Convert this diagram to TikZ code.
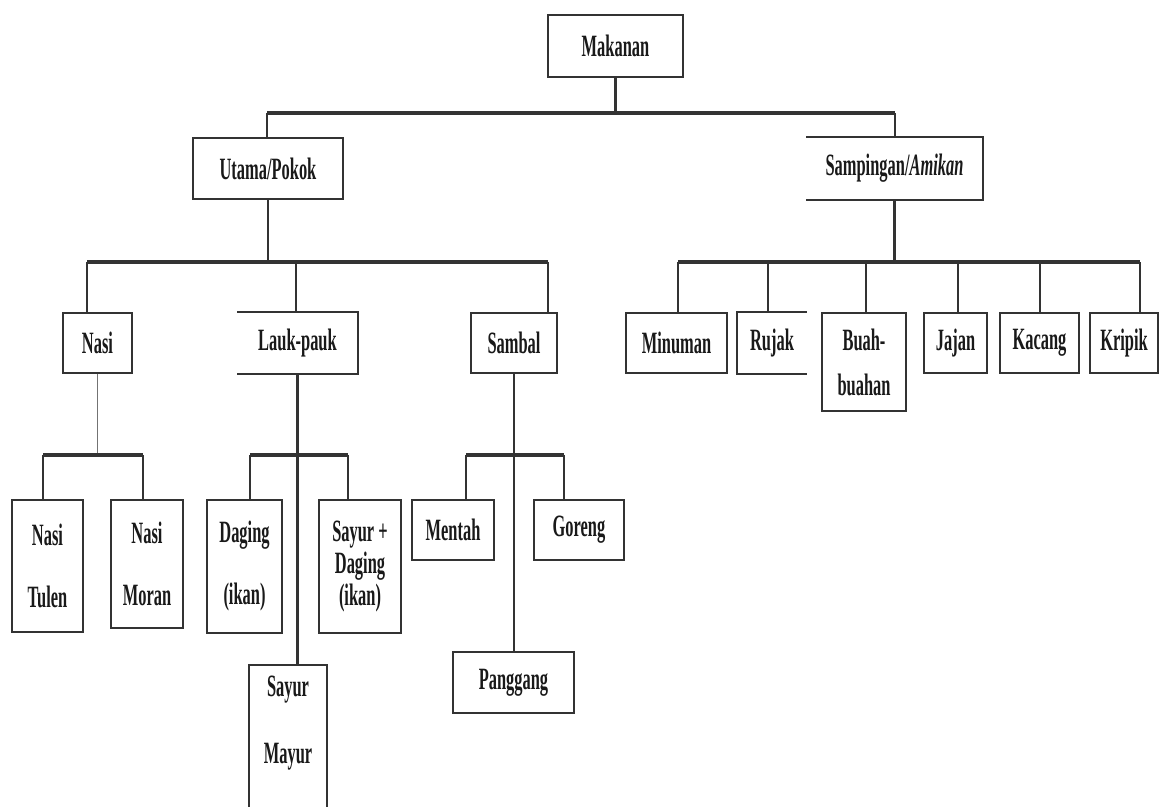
\documentclass[tikz,border=0pt]{standalone}
\usepackage{fontspec}
\setmainfont{Liberation Serif}
\usepackage{graphicx}
\newcommand{\sq}[1]{\scalebox{0.53}[1]{#1}}
\begin{document}
\begin{tikzpicture}[x=1pt,y=-1pt,
  box/.style={draw=black!80, line width=1.8pt, inner sep=0pt, font=\fontsize{31}{35}\selectfont\bfseries, text=black!90, align=center},
  openbox/.style={box, draw=none},
  edge/.style={line width=1.8pt, draw=black!80},
  bar/.style={line width=3.5pt, draw=black!80},
  stem/.style={line width=2.2pt, draw=black!80},
  thinstem/.style={line width=0.9pt, draw=black!55}]
\useasboundingbox (0,0) rectangle (1161,806);
\clip (0,0) rectangle (1161,806);
\fill[white] (0,0) rectangle (1161,806);

% level 0
\node[box, minimum width=135pt, minimum height=62pt] (mak) at (615.5,46) {\sq{Makanan}};
% level 1
\node[box, minimum width=150pt, minimum height=61pt] (ut) at (268,168.5) {\sq{Utama/Pokok}};
\node[openbox, minimum width=175pt, minimum height=61pt] (samp) at (894.5,168.5) {\sq{Sampingan/\textit{Amikan}}};
% level 2 left
\node[box, minimum width=69pt, minimum height=60pt] (nasi) at (97.5,343) {\sq{Nasi}};
\node[openbox, minimum width=119pt, minimum height=60pt] (lauk) at (297.5,343) {\sq{Lauk-pauk}};
\node[box, minimum width=86pt, minimum height=60pt] (sambal) at (514,343) {\sq{Sambal}};
% level 2 right
\node[box, minimum width=101pt, minimum height=60pt] (minum) at (676.5,343) {\sq{Minuman}};
\node[openbox, minimum width=68pt, minimum height=60pt] (rujak) at (772,343) {\sq{Rujak}};
\node[box, minimum width=84pt, minimum height=98pt] (buah) at (864,362) {\sq{Buah-}\\[10pt]\sq{buahan}};
\node[box, minimum width=63pt, minimum height=60pt] (jajan) at (955.5,343) {\sq{Jajan}};
\node[box, minimum width=79pt, minimum height=60pt] (kacang) at (1039.5,343) {\sq{Kacang}};
\node[box, minimum width=68pt, minimum height=60pt] (kripik) at (1124,343) {\sq{Kripik}};
% level 3
\node[box, minimum width=71pt, minimum height=132pt] (tulen) at (47.5,566) {\sq{Nasi}\\[27pt]\sq{Tulen}};
\node[box, minimum width=72pt, minimum height=128pt] (moran) at (147,564) {\sq{Nasi}\\[27pt]\sq{Moran}};
\node[box, minimum width=75pt, minimum height=133pt] (daging) at (244.5,566.5) {\sq{Daging}\\[27pt]\sq{(ikan)}};
\node[box, minimum width=82pt, minimum height=133pt] (sdaging) at (360,566.5) {\sq{Sayur +}\\[-3pt]\sq{Daging}\\[-3pt]\sq{(ikan)}};
\node[openbox, minimum width=76pt, minimum height=114pt] (mayur) at (288,723) {\sq{Sayur}\\[32pt]\sq{Mayur}};
\node[box, minimum width=82pt, minimum height=60pt] (mentah) at (453,530) {\sq{Mentah}};
\node[box, minimum width=90pt, minimum height=60pt] (goreng) at (579,530) {\sq{Goreng}};
\node[box, minimum width=121pt, minimum height=61pt] (panggang) at (513.5,682.5) {\sq{Panggang}};

% open box outlines
\draw[edge] (samp.north west) -- (samp.north east) -- (samp.south east) -- (samp.south west);
\draw[edge] (lauk.north west) -- (lauk.north east) -- (lauk.south east) -- (lauk.south west);
\draw[edge] (rujak.north east) -- (rujak.north west) -- (rujak.south west) -- (rujak.south east);
\draw[edge] (mayur.south west |- 0,820) -- (mayur.north west) -- (mayur.north east) -- (mayur.south east |- 0,820);

% junction coordinates
\coordinate (b0L) at (267,113);
\coordinate (b0R) at (895,113);
\coordinate (b1L) at (87,262);
\coordinate (b1M) at (296,262);
\coordinate (b1R) at (548,262);
\coordinate (b2L) at (678,262);
\coordinate (b2a) at (768,262);
\coordinate (b2b) at (866,262);
\coordinate (b2c) at (958,262);
\coordinate (b2d) at (1040,262);
\coordinate (b2R) at (1140,262);
\coordinate (n3L) at (43,455);
\coordinate (n3R) at (143,455);
\coordinate (l3L) at (250,455);
\coordinate (l3R) at (348,455);
\coordinate (s3L) at (466,455);
\coordinate (s3R) at (564,455);

% level 0 -> 1
\draw[stem] (mak.south) -- (mak.south |- b0L);
\draw[bar] (b0L) -- (b0R);
\draw[stem] (b0L) -- (b0L |- ut.north);
\draw[stem] (b0R) -- (b0R |- samp.north);
% Utama -> level 2
\draw[stem] (ut.south) -- (ut.south |- b1L);
\draw[bar] (b1L) -- (b1R);
\draw[stem] (b1L) -- (b1L |- nasi.north);
\draw[stem] (b1M) -- (b1M |- lauk.north);
\draw[stem] (b1R) -- (b1R |- sambal.north);
% Sampingan -> level 2
\draw[stem] (samp.south) -- (samp.south |- b2L);
\draw[bar] (b2L) -- (b2R);
\draw[stem] (b2L) -- (b2L |- minum.north);
\draw[stem] (b2a) -- (b2a |- rujak.north);
\draw[stem] (b2b) -- (b2b |- buah.north);
\draw[stem] (b2c) -- (b2c |- jajan.north);
\draw[stem] (b2d) -- (b2d |- kacang.north);
\draw[stem] (b2R) -- (b2R |- kripik.north);
% Nasi -> level 3
\draw[thinstem] (nasi.south) -- (nasi.south |- n3L);
\draw[bar] (n3L) -- (n3R);
\draw[stem] (n3L) -- (n3L |- tulen.north);
\draw[stem] (n3R) -- (n3R |- moran.north);
% Lauk-pauk -> level 3
\draw[stem] (lauk.south) -- (lauk.south |- mayur.north);
\draw[bar] (l3L) -- (l3R);
\draw[stem] (l3L) -- (l3L |- daging.north);
\draw[stem] (l3R) -- (l3R |- sdaging.north);
% Sambal -> level 3
\draw[stem] (sambal.south) -- (sambal.south |- panggang.north);
\draw[bar] (s3L) -- (s3R);
\draw[stem] (s3L) -- (s3L |- mentah.north);
\draw[stem] (s3R) -- (s3R |- goreng.north);
\end{tikzpicture}
\end{document}
